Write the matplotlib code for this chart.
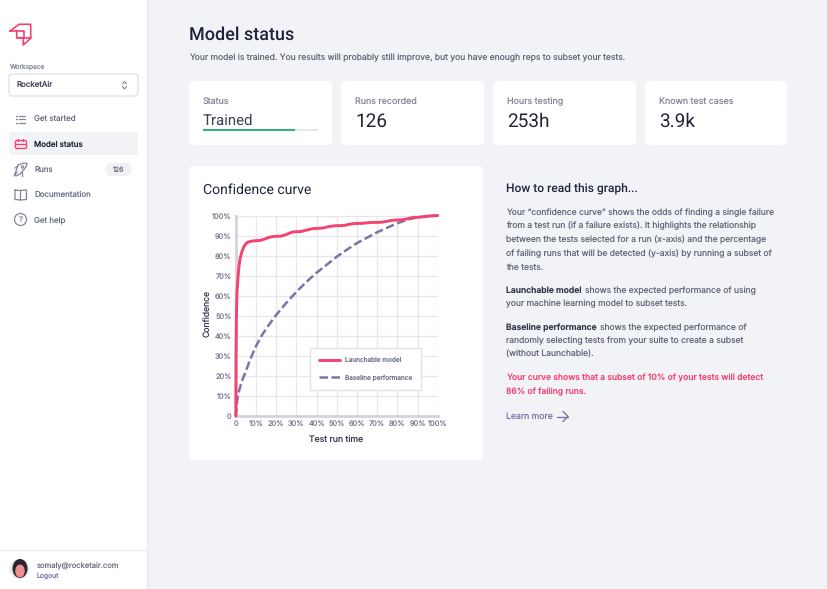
import matplotlib
matplotlib.use("Agg")
import matplotlib.pyplot as plt
from matplotlib.patches import FancyBboxPatch, Rectangle, Circle, Polygon, Ellipse
from matplotlib.lines import Line2D

W, H = 828, 589
plt.rcParams['font.family'] = ['Inter', 'DejaVu Sans']
plt.rcParams['text.hinting'] = 'no_hinting'
plt.rcParams['text.hinting_factor'] = 1

# ---- data ----
model_x = [0, 0.1, 0.3, 0.6, 1, 1.5, 2, 3, 4, 5, 6, 8, 10, 12, 14, 16, 18, 20, 22, 24, 26, 28, 30, 32, 34, 36, 38, 40,
           42, 44, 46, 48, 50, 52, 54, 56, 58, 60, 62, 64, 66, 68, 70, 72, 74, 76, 78, 80, 82, 84, 86, 88, 90, 92, 94, 96, 98, 100]
model_y = [0, 30, 50, 62, 68, 74, 78, 82, 84.5, 86, 86.8, 87.3, 87.5, 87.6, 88.2, 89, 89.5, 89.7, 89.7, 90.2, 91, 91.8, 92,
           92, 92.5, 93, 93.5, 93.6, 93.7, 94, 94.5, 94.8, 95, 95, 95.2, 95.6, 96, 96.1, 96.1, 96.3, 96.5, 96.6, 96.6, 96.7,
           97, 97.4, 97.7, 97.8, 97.9, 98.2, 98.7, 99.1, 99.2, 99.3, 99.6, 99.8, 100, 100]
base_x = [0, 0.5, 1, 2, 3, 5, 7, 10, 13, 16, 20, 25, 30, 35, 40, 45, 50, 55, 60, 65, 70, 75, 80, 85, 90, 95, 100]
base_y = [0, 6, 10, 14, 17.5, 22.5, 28, 35, 40.5, 45, 50.5, 56.5, 62, 67, 71.5, 75.5, 79.5, 83, 86.3, 89, 91.7, 94, 96.2, 98, 99.2, 99.6, 100]
x_ticks = [0, 10, 20, 30, 40, 50, 60, 70, 80, 90, 100]
y_ticks = [0, 10, 20, 30, 40, 50, 60, 70, 80, 90, 100]
series_names = ["Launchable model", "Baseline performance"]
nav_labels = ["Get started", "Model status", "Runs", "Documentation", "Get help"]
card_labels = ["Status", "Runs recorded", "Hours testing", "Known test cases"]
card_values = ["Trained", "126", "253h", "3.9k"]

PINK = "#f5426f"; PURPLE = "#7d73a8"; DARK = "#20243a"; GREY = "#62677b"; LIGHT = "#82869a"
HEAD = ['Roboto', 'DejaVu Sans']
BODY = 8.55

fig = plt.figure(figsize=(W/100, H/100), dpi=100, facecolor="#f2f3f6")
ui = fig.add_axes([0, 0, 1, 1], zorder=0)
ui.set_xlim(0, W); ui.set_ylim(H, 0); ui.axis("off")

def px(s): return s*0.72
def T(x, y, s, size, color=GREY, **kw):
    kw.setdefault("va", "center"); kw.setdefault("ha", "left")
    ui.text(x, y, s, fontsize=px(size), color=color, **kw)
def L(xs, ys, color=LIGHT, lw=1.0, **kw):
    ui.add_line(Line2D(xs, ys, color=color, lw=lw, solid_capstyle="round", solid_joinstyle="round", **kw))
def card(x, y, w, h, r=4):
    for d, a in ((3, .03), (1.5, .05)):
        ui.add_patch(FancyBboxPatch((x+r-d, y+r-d+1), w-2*r+2*d, h-2*r+2*d, boxstyle=f"round,pad=0,rounding_size={r}",
                                    mutation_aspect=1, fc="#5a5f78", ec="none", alpha=a))
    ui.add_patch(FancyBboxPatch((x+r, y+r), w-2*r, h-2*r, boxstyle=f"round,pad={r},rounding_size={r}", fc="white", ec="none"))

# sidebar
ui.add_patch(Rectangle((0, 0), 147, H, fc="white", ec="none"))
L([147.5, 147.5], [0, H], color="#e9eaee", lw=1)
L([0, 147], [549.5, 549.5], color="#ebecf0", lw=1)

# logo
L([10, 19, 30.7, 30.7, 23.3, 23.3, 16.7, 16.7, 10], [31, 24.3, 24.3, 38.3, 45, 37.7, 37.7, 31, 31], color=PINK, lw=1.2)
L([16.7, 24, 24, 16.7], [31, 31, 37.7, 37.7], color=PINK, lw=1.2)
L([24, 30.7], [37.7, 37.7], color=PINK, lw=1.2)

T(9.3, 67, "Workspace", 6.6, LIGHT)
ui.add_patch(FancyBboxPatch((12, 77), 123, 16, boxstyle="round,pad=3,rounding_size=3", fc="white", ec="#e0e1e8", lw=.9))
T(16.7, 85, "RocketAir", 7.9, "#3b3f55")
L([122.5, 124.5, 126.5], [84, 81.5, 84], lw=.8); L([122.5, 124.5, 126.5], [86.5, 89, 86.5], lw=.8)

ui.add_patch(FancyBboxPatch((12, 135), 123, 17, boxstyle="round,pad=3,rounding_size=3", fc="#f2f3f6", ec="none"))
for y, s in zip([118.7, 144, 169.5, 194.7, 220], nav_labels):
    T(34.3, y+.3, s, 7.9, DARK if s == "Model status" else "#6b6f83", fontweight="medium" if s == "Model status" else "normal")

# nav icons
for yy in (115.5, 119, 122.5):
    L([16, 16.6], [yy, yy], lw=1); L([19, 25], [yy, yy], lw=.9)
ui.add_patch(FancyBboxPatch((16, 141), 10, 7, boxstyle="round,pad=0.5,rounding_size=1.5", fc="none", ec=PINK, lw=1))
L([16, 26], [143.5, 143.5], color=PINK, lw=1)
L([18.5, 18.5], [139, 141], color=PINK, lw=1); L([23.5, 23.5], [139, 141], color=PINK, lw=1)
L([15, 18, 24, 27, 26, 20, 16, 15], [174, 165, 163, 163.5, 167, 174, 176, 174], lw=.9)
L([15, 18], [168, 166], lw=.9); L([22, 22], [172, 176], lw=.9); L([14, 17], [176, 172], lw=.9)
ui.add_patch(Circle((22.5, 167), 1.2, fc="none", ec=LIGHT, lw=.8))
L([15, 20.5, 20.5, 15, 15], [190, 190.5, 200, 199.5, 190], lw=.9)
L([20.5, 26.5, 26.5, 20.5], [190.5, 190, 199.5, 200], lw=.9)
ui.add_patch(Circle((20.5, 219.5), 6, fc="none", ec=LIGHT, lw=.9))
T(20.5, 219.5, "?", 8, LIGHT, ha="center")
ui.add_patch(FancyBboxPatch((107.5, 165), 22, 9, boxstyle="round,pad=0,rounding_size=4", fc="#f0f1f4", ec="#f0f1f4", lw=3))
T(118.5, 169.8, "126", 7, "#6b6f83", ha="center")

# user
ui.add_patch(Circle((19.5, 569), 10, fc="#e8e9ee", ec="none"))
ui.add_patch(Ellipse((20, 568.5), 15, 19, fc="#2a2430", ec="none"))
ui.add_patch(Ellipse((20, 571), 9.5, 13, fc="#ee8f92", ec="none"))
T(37, 565.5, "somaly@rocketair.com", 7.6, "#6b6f83")
T(37, 575.8, "Logout", 6.8, PURPLE)

# header
T(189, 34.5, "Model status", 18, DARK, fontweight="medium", family=HEAD)
T(189, 57.8, "Your model is trained. You results will probably still improve, but you have enough reps to subset your tests.", BODY, GREY)

# stat cards
for x, w, lab, val in zip([189, 341, 493, 645], [143, 143, 143, 142], card_labels, card_values):
    card(x, 81, w, 64)
    T(x+14, 101.3, lab, 8.9, LIGHT)
    T(x+14, 120.5 if val == "Trained" else 121.5, val, 14.8 if val == "Trained" else 19, "#3a3d55" if val == "Trained" else DARK, family=HEAD)
ui.add_patch(Rectangle((203, 128.5), 115, 2, fc="#e6e7ec", ec="none"))
ui.add_patch(Rectangle((203, 128.5), 92, 2, fc="#2fb37c", ec="none"))

# chart card
card(189, 166, 294, 294)
T(203, 190, "Confidence curve", 14.2, DARK, family=HEAD)

# explanation
T(506.5, 188.5, "How to read this graph...", 12, DARK, fontweight="medium", family=HEAD)
para = [(212, "Your \u201cconfidence curve\u201d shows the odds of finding a single failure"),
        (225.5, "from a test run (if a failure exists). It highlights the relationship"),
        (239.5, "between the tests selected for a run (x-axis) and the percentage"),
        (253, "of failing runs that will be detected (y-axis) by running a subset of"),
        (267, "the tests."),
        (303.5, "your machine learning model to subset tests."),
        (340.5, "randomly selecting tests from your suite to create a subset"),
        (354, "(without Launchable).")]
for y, s in para:
    T(506.5, y+.3, s, BODY, GREY)
T(506.5, 290.3, "Launchable model", BODY, "#33374d", fontweight="semibold")
T(585, 290.3, "shows the expected performance of using", BODY, GREY)
T(506.5, 327.3, "Baseline performance", BODY, "#33374d", fontweight="semibold")
T(600, 327.3, "shows the expected performance of", BODY, GREY)
T(506.5, 377.8, "Your curve shows that a subset of 10% of your tests will detect", BODY, PINK, fontweight="medium")
T(506.5, 391.3, "86% of failing runs.", BODY, PINK, fontweight="medium")
T(506.5, 416.3, "Learn more", 8.7, PURPLE)
L([557, 568], [416.5, 416.5], color=PURPLE, lw=1)
L([563, 568, 563], [411.5, 416.5, 421.5], color=PURPLE, lw=1)

# chart
x0, x1, y0, y1 = 235.8, 437.8, 416.2, 215.6
ax = fig.add_axes([x0/W, 1-y0/H, (x1-x0)/W, (y0-y1)/H], zorder=2, facecolor="none")
ax.set_xlim(0, 100); ax.set_ylim(0, 100)
ax.set_xticks(x_ticks); ax.set_yticks(y_ticks)
ax.set_xticklabels(["0" if v == 0 else f"{v}%" for v in x_ticks])
ax.set_yticklabels(["0" if v == 0 else f"{v}%" for v in y_ticks])
ax.tick_params(length=0, labelsize=px(7.4), labelcolor="#7c8094", pad=3)
ax.grid(True, color="#e6e7ec", lw=.9)
ax.set_axisbelow(True)
for s in ("top", "right"):
    ax.spines[s].set_visible(False)
for s in ("left", "bottom"):
    ax.spines[s].set_color("#d2d3dc"); ax.spines[s].set_linewidth(2)
ax.plot(base_x, base_y, color=PURPLE, lw=1.8, dashes=(3.4, 1.4), label=series_names[1], clip_on=False, zorder=3)
ax.plot(model_x, model_y, color=PINK, lw=2.1, label=series_names[0], clip_on=False, zorder=4, solid_capstyle="round")
ax.set_xlabel("Test run time", fontsize=px(8.7), color="#33374d")
ax.set_ylabel("Confidence", fontsize=px(8.6), color="#33374d")
ax.xaxis.set_label_coords((336-x0)/(x1-x0), (y0-439)/(y0-y1))
ax.xaxis.label.set_va("center")
ax.yaxis.set_label_coords((207-x0)/(x1-x0), (y0-313.5)/(y0-y1))
ax.yaxis.label.set_va("center")
h, l = ax.get_legend_handles_labels()
leg = ax.legend(h[::-1], l[::-1], loc="lower left", bbox_to_anchor=((310.5-x0)/(x1-x0), (y0-389.5)/(y0-y1)),
                fontsize=px(6.5), frameon=True, fancybox=False, facecolor="white", edgecolor="#e2e3e9",
                framealpha=1, handlelength=3.2, handletextpad=.77, labelspacing=1.6, borderpad=1.35, borderaxespad=0, labelcolor="#73778c")
leg.get_frame().set_linewidth(1)
leg.set_zorder(5)

fig.savefig("out.png", dpi=100, facecolor=fig.get_facecolor())
